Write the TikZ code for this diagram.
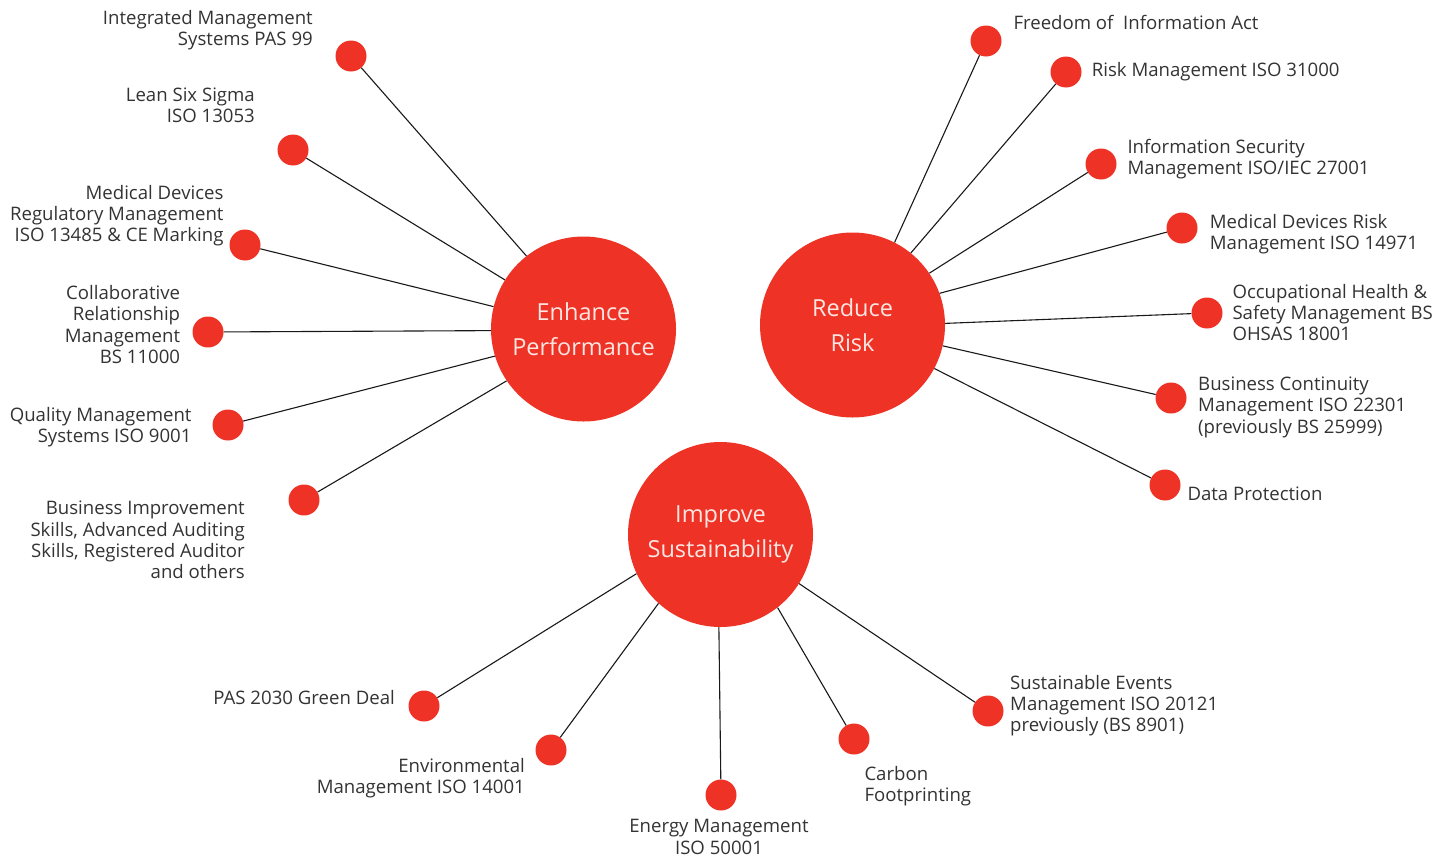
\documentclass[tikz,border=0pt]{standalone}
\usepackage{fontspec}
\setmainfont{Open Sans}
\definecolor{bsired}{HTML}{EE3226}
\definecolor{txt}{HTML}{333333}
\definecolor{ctext}{HTML}{FCE6E2}
\begin{document}
\begin{tikzpicture}[x=1pt,y=-1pt,
 hub/.style={circle, fill=bsired, inner sep=0, minimum size=185pt, text=ctext, align=center, font=\fontsize{23.5}{35}\selectfont},
 dot/.style={circle, fill=bsired, inner sep=0, minimum size=31pt},
 lbl/.style={inner sep=0, text=txt, font=\fontsize{18.6}{21.3}\selectfont},
 lblr/.style={lbl, align=right, anchor=north east},
 lbll/.style={lbl, align=left, anchor=north west},
 lblc/.style={lbl, align=center, anchor=north},
 link/.style={line width=1.1pt, draw=black!90}
]
\useasboundingbox (0,0) rectangle (1450,857);

% hubs
\node[hub] (ep) at (583.5,329) {Enhance\\Performance};
\node[hub] (rr) at (852.5,325) {Reduce\\Risk};
\node[hub] (is) at (720.5,534.5) {Improve\\Sustainability};

% left dots
\node[dot] (e1) at (351,56) {};
\node[dot] (e2) at (293,150) {};
\node[dot] (e3) at (245,245) {};
\node[dot] (e4) at (208,332) {};
\node[dot] (e5) at (228,425) {};
\node[dot] (e6) at (304,500) {};
% right dots
\node[dot] (r1) at (986,41) {};
\node[dot] (r2) at (1066,72) {};
\node[dot] (r3) at (1101,164) {};
\node[dot] (r4) at (1182,228) {};
\node[dot] (r5) at (1207,313) {};
\node[dot] (r6) at (1171,398) {};
\node[dot] (r7) at (1165,485) {};
% bottom dots
\node[dot] (s1) at (424,706) {};
\node[dot] (s2) at (551,750) {};
\node[dot] (s3) at (721,795) {};
\node[dot] (s4) at (854,739) {};
\node[dot] (s5) at (988,711) {};

% connectors
\draw[link] (e1) -- (ep.128);
\draw[link] (e2) -- (ep.148);
\draw[link] (e3) -- (ep.166);
\draw[link] (e4) -- (ep.181);
\draw[link] (e5) -- (ep.197.6);
\draw[link] (e6) -- (ep.214.6);
\draw[link] (r1) -- (rr.63.7);
\draw[link] (r2) -- (rr.51);
\draw[link] (r3) -- (rr.34.4);
\draw[link] (r4) -- (rr.20);
\draw[link] (r5) -- (rr.1.8);
\draw[link] (r6) -- (rr.-13);
\draw[link] (r7) -- (rr.-28);
\draw[link] (s1) -- (is.205.4);
\draw[link] (s2) -- (is.228.8);
\draw[link] (s3) -- (is.269.5);
\draw[link] (s4) -- (is.-52.3);
\draw[link] (s5) -- (is.-32.1);

% left labels
\node[lblr] (tl1) at (313,10) {Integrated Management\\Systems PAS 99};
\node[lblr] (tl2) at (255,87.5) {Lean Six Sigma\\ISO 13053};
\node[lblr] (tl3) at (223.7,185) {Medical Devices\\Regulatory Management\\ISO 13485 \& CE Marking};
\node[lblr] (tl4) at (180.3,285.3) {Collaborative\\Relationship\\Management\\BS 11000};
\node[lblr] (tl5) at (191.7,407.3) {Quality Management\\Systems ISO 9001};
\node[lblr] (tl6) at (245,501) {Business Improvement\\Skills, Advanced Auditing\\Skills, Registered Auditor\\and others};

% right labels
\node[lbll] (tr1) at (1013.3,15) {Freedom of\ \ Information Act};
\node[lbll] (tr2) at (1091.7,62) {Risk Management ISO 31000};
\node[lbll] (tr3) at (1127.3,138.7) {Information Security\\Management ISO/IEC 27001};
\node[lbll] (tr4) at (1209.7,213.7) {Medical Devices Risk\\Management ISO 14971};
\node[lbll] (tr5) at (1232.3,283.7) {Occupational Health \&\\Safety Management BS\\OHSAS 18001};
\node[lbll] (tr6) at (1198,376.7) {Business Continuity\\Management ISO 22301\\(previously BS 25999)};
\node[lbll] (tr7) at (1187.3,486.7) {Data Protection};

% bottom labels
\node[lblr] (tb1) at (395,690) {PAS 2030 Green Deal};
\node[lblr] (tb2) at (525,758.3) {Environmental\\Management ISO 14001};
\node[lblc] (tb3) at (719,819.3) {Energy Management\\ISO 50001};
\node[lbll] (tb4) at (864.3,766) {Carbon\\Footprinting};
\node[lbll] (tb5) at (1010,675) {Sustainable Events\\Management ISO 20121\\previously (BS 8901)};
\end{tikzpicture}
\end{document}
